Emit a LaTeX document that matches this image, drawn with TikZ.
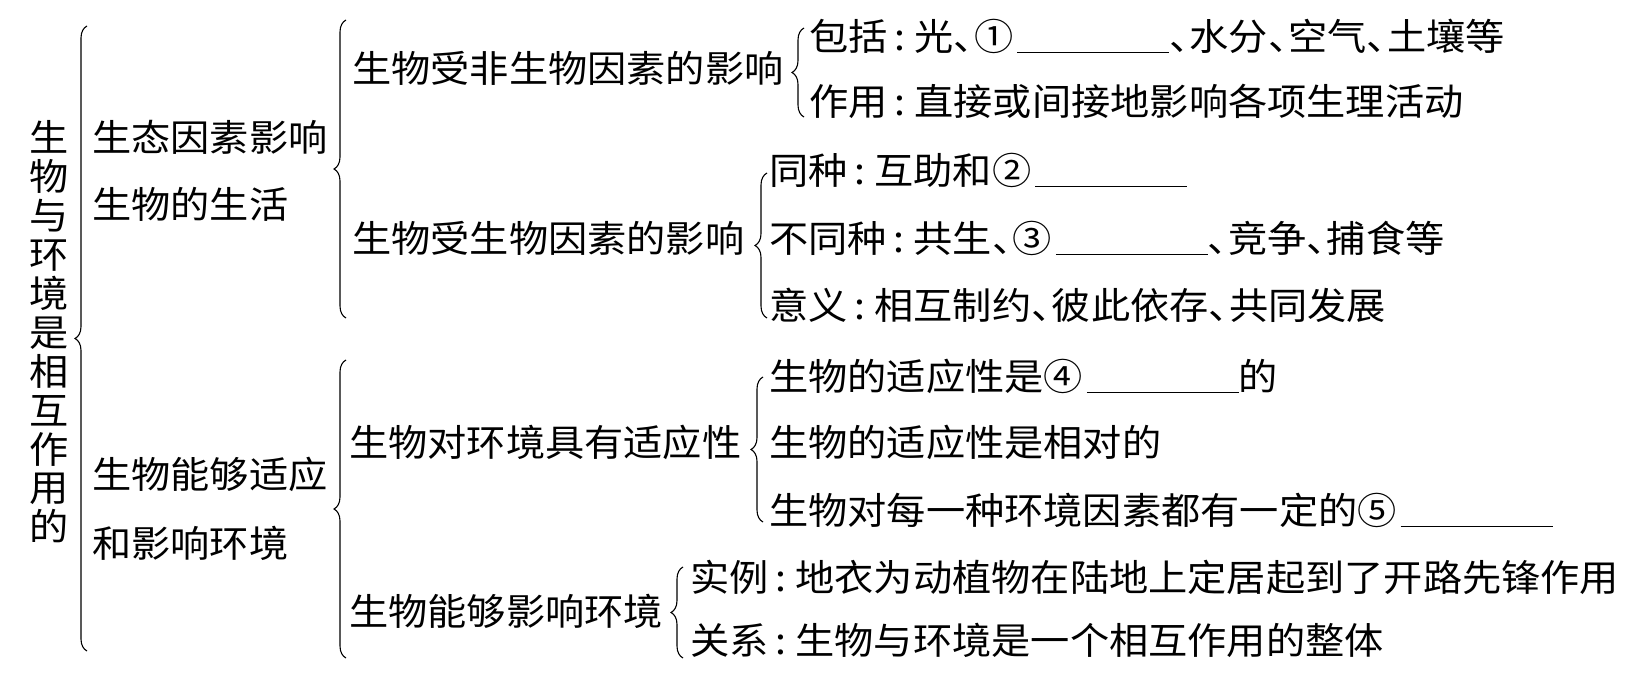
\documentclass[tikz,border=0pt]{standalone}
\usepackage{fontspec}
\newfontfamily\cjk{Noto Sans CJK SC}[FakeStretch=1.06]
\usetikzlibrary{decorations.pathreplacing}
\newcommand\cl{\kern7pt:\kern9pt}
\newcommand\dn{\makebox[0.55em][l]{、}}
\newcommand\blank{\kern4pt\rule[-3pt]{152pt}{1.3pt}}
\begin{document}
\begin{tikzpicture}[x=1pt,y=-1pt,
  txt/.style={inner sep=0pt, anchor=west, font=\cjk\fontsize{37}{39}\selectfont},
  brc/.style={decorate, decoration={brace, amplitude=12pt}, line width=1.1pt}]
\useasboundingbox (0,0) rectangle (1640,692);
% root
\node[txt, anchor=center, align=center, font=\cjk\fontsize{37}{38.9}\selectfont] (root) at (49,332)
  {生\\物\\与\\环\\境\\是\\相\\互\\作\\用\\的};
% level 1
\node[txt, align=left, font=\cjk\fontsize{37}{67}\selectfont] (a1) at (92,171) {生态因素影响\\生物的生活};
\node[txt, align=left, font=\cjk\fontsize{37}{69}\selectfont] (a2) at (92,509) {生物能够适应\\和影响环境};
% level 2
\node[txt] (b1) at (352,68) {生物受非生物因素的影响};
\node[txt] (b2) at (352,238) {生物受生物因素的影响};
\node[txt] (b3) at (349,442) {生物对环境具有适应性};
\node[txt] (b4) at (349,611) {生物能够影响环境};
% level 3
\node[txt] (c1) at (809,36) {包括\cl 光\dn①\blank\dn 水分\dn 空气\dn 土壤等};
\node[txt] (c2) at (809,101) {作用\cl 直接或间接地影响各项生理活动};
\node[txt] (c3) at (769,170) {同种\cl 互助和②\blank};
\node[txt] (c4) at (769,238) {不同种\cl 共生\dn③\blank\dn 竞争\dn 捕食等};
\node[txt] (c5) at (769,305) {意义\cl 相互制约\dn 彼此依存\dn 共同发展};
\node[txt] (c6) at (769,376) {生物的适应性是④\blank 的};
\node[txt] (c7) at (769,442) {生物的适应性是相对的};
\node[txt] (c8) at (769,510) {生物对每一种环境因素都有一定的⑤\blank};
\node[txt] (c9) at (690,577) {实例\cl 地衣为动植物在陆地上定居起到了开路先锋作用};
\node[txt] (c10) at (690,640) {关系\cl 生物与环境是一个相互作用的整体};
% braces
\coordinate (r0t) at (87,26);   \coordinate (r0b) at (87,651);
\coordinate (a1t) at (346,20);  \coordinate (a1b) at (346,318);
\coordinate (a2t) at (346,360); \coordinate (a2b) at (346,658);
\coordinate (b1t) at (804,28);  \coordinate (b1b) at (804,117);
\coordinate (b2t) at (767,173); \coordinate (b2b) at (767,318);
\coordinate (b3t) at (763,377); \coordinate (b3b) at (763,522);
\coordinate (b4t) at (683,567); \coordinate (b4b) at (683,658);
\draw[brc] (r0b) -- (r0t);
\draw[brc] (a1b) -- (a1t);
\draw[brc] (a2b) -- (a2t);
\draw[brc] (b1b) -- (b1t);
\draw[brc] (b2b) -- (b2t);
\draw[brc] (b3b) -- (b3t);
\draw[brc] (b4b) -- (b4t);
\end{tikzpicture}
\end{document}
